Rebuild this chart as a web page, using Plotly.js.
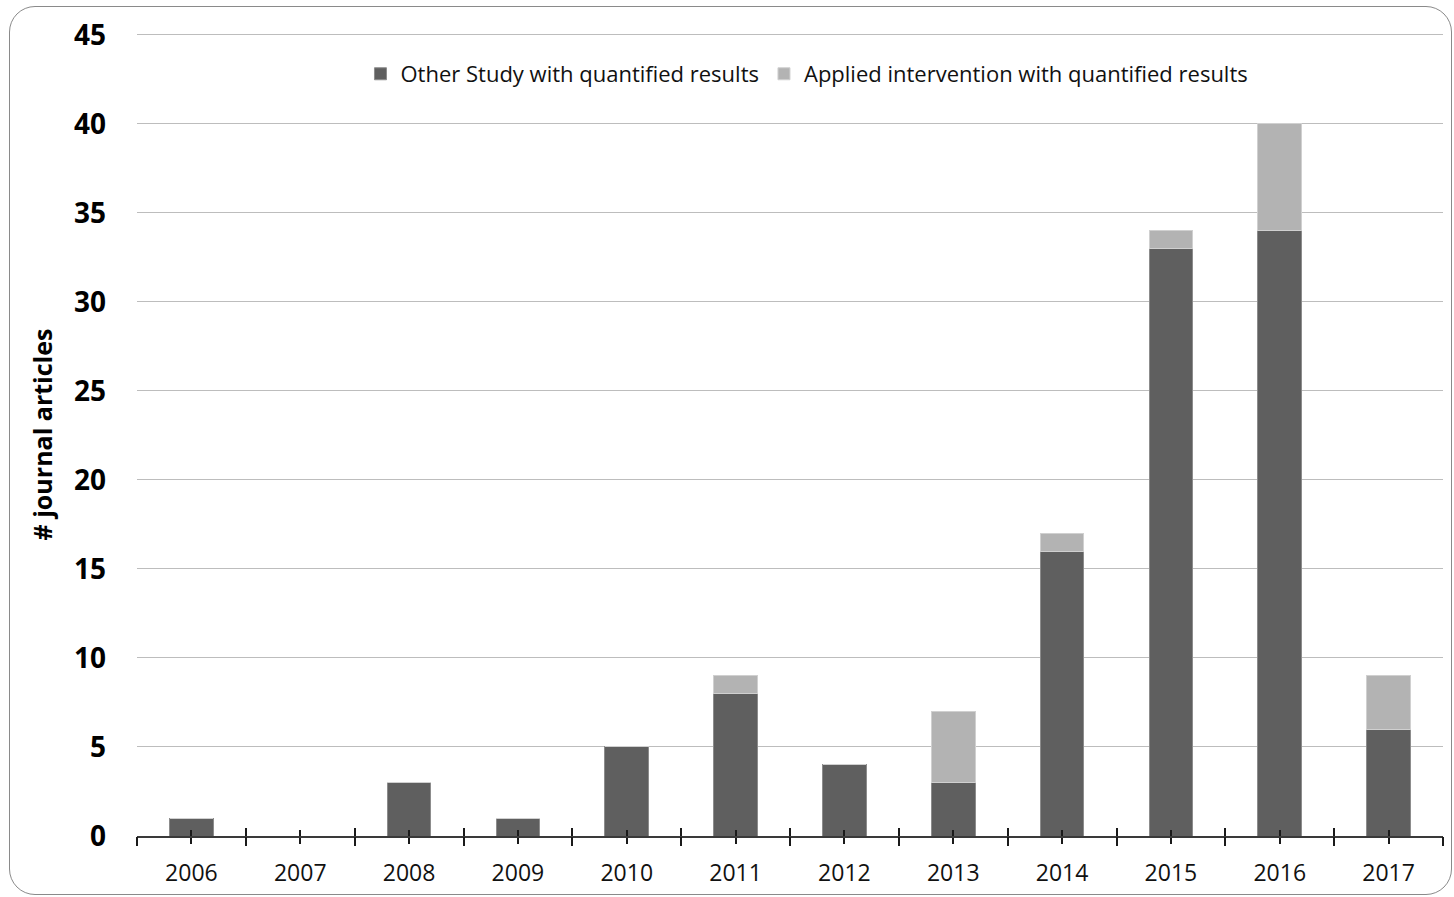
<!DOCTYPE html>
<html>
<head>
<meta charset="utf-8">
<script src="https://cdn.plot.ly/plotly-3.0.1.min.js"></script>
<style>
  html, body { margin: 0; padding: 0; background: #fff; }
  #wrap { position: relative; width: 1454px; height: 897px; }
  #chart { position: absolute; left: 0; top: 0; width: 1454px; height: 897px; }
  #frame {
    position: absolute; left: 9px; top: 6px; width: 1443px; height: 889px;
    box-sizing: border-box; border: 1.3px solid #8a8a8a; border-radius: 26px;
    pointer-events: none;
  }
</style>
</head>
<body>
<div id="wrap">
  <div id="chart"></div>
  <div id="frame"></div>
</div>
<script>
// Journal articles per publication year
const years = ['2006','2007','2008','2009','2010','2011','2012','2013','2014','2015','2016','2017'];
const otherStudy = [1, 0, 3, 1, 5, 8, 4, 3, 16, 33, 34, 6];
const appliedIntervention = [0, 0, 0, 0, 0, 1, 0, 4, 1, 1, 6, 3];
const seriesNames = ['Other Study with quantified results', 'Applied intervention with quantified results'];

const font = 'Open Sans, Noto Sans, sans-serif';

const traces = [
  {
    type: 'bar', x: years, y: otherStudy, name: seriesNames[0],
    marker: { color: '#5f5f5f', line: { color: '#8c8c8c', width: 1 } },
    hoverinfo: 'x+y+name'
  },
  {
    type: 'bar', x: years, y: appliedIntervention, name: seriesNames[1],
    marker: { color: '#b3b3b3', line: { color: '#d0d0d0', width: 1 } },
    hoverinfo: 'x+y+name'
  }
];

// Overlay axes used only to draw the tick marks that cross the baseline
const n = years.length;
const tickAxis = (tick0, dir, len) => ({
  overlaying: 'x', anchor: 'y', side: 'bottom',
  type: 'linear', range: [-0.5, n - 0.5], tick0: tick0, dtick: 1,
  ticks: dir, ticklen: len, tickwidth: 1.5, tickcolor: '#1a1a1a',
  showticklabels: false, showgrid: false, zeroline: false, showline: false,
  fixedrange: true
});

const layout = {
  width: 1454, height: 897,
  margin: { l: 137, r: 11, t: 33, b: 61 },
  paper_bgcolor: '#ffffff', plot_bgcolor: '#ffffff',
  barmode: 'stack', bargap: 0.6,
  font: { family: font, color: '#000' },
  showlegend: true,
  legend: {
    orientation: 'h', x: 0.513, xanchor: 'center', y: 0.949, yanchor: 'middle',
    font: { family: font, size: 22, color: '#111' },
    traceorder: 'normal', itemwidth: 30, bgcolor: 'rgba(0,0,0,0)'
  },
  xaxis: {
    type: 'category', range: [-0.5, n - 0.5],
    showline: true, linecolor: '#3a3a3a', linewidth: 1.5,
    ticks: 'outside', ticklen: 6, tickwidth: 1.5, tickcolor: '#1a1a1a',
    ticklabelstandoff: 10,
    tickfont: { family: font, size: 23, color: '#111' },
    showgrid: false, zeroline: false, fixedrange: true
  },
  xaxis2: tickAxis(-0.5, 'outside', 9),
  xaxis3: tickAxis(-0.5, 'inside', 8),
  xaxis4: tickAxis(0, 'inside', 6),
  yaxis: {
    range: [0, 45.1], dtick: 5, tick0: 0,
    showgrid: true, gridcolor: '#bdbdbd', gridwidth: 1.2,
    zeroline: false, showline: false, ticks: '',
    ticklabelstandoff: 30,
    tickfont: { family: font, size: 28, color: '#000', weight: 'bold' },
    title: { text: '# journal articles', standoff: 14,
             font: { family: font, size: 25, color: '#000', weight: 'bold' } },
    fixedrange: true
  }
};

// Empty helper traces so the overlay axes are drawn
const helpers = ['x2', 'x3', 'x4'].map(ax => ({
  type: 'scatter', x: [], y: [], xaxis: ax, yaxis: 'y',
  showlegend: false, hoverinfo: 'skip'
}));

Plotly.newPlot('chart', traces.concat(helpers), layout, { displayModeBar: false, staticPlot: false });
</script>
</body>
</html>
